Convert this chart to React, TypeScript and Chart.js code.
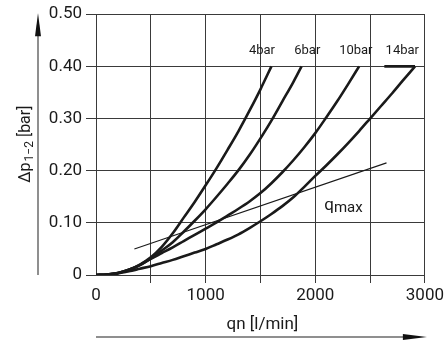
import React, { useEffect, useRef } from 'react';
import { Chart, registerables } from 'chart.js';

Chart.register(...registerables);

const FONT = 'Roboto, "Liberation Sans", sans-serif';

// x axis (qn, l/min) tick labels, every 500 gridline, labels every 1000
const xTickLabels = ['0', '', '1000', '', '2000', '', '3000'];
// y axis (Δp, bar) tick labels
const yTickLabels = ['0', '0.10', '0.20', '0.30', '0.40', '0.50'];

// curve names
const curveNames = ['4bar', '6bar', '10bar', '14bar'];

// 4 bar
const qn4 = [0, 100, 200, 300, 400, 500, 600, 700, 800, 900, 1000, 1100, 1200, 1300, 1400, 1500, 1600];
const dp4 = [0, 0.001, 0.004, 0.01, 0.02, 0.034, 0.054, 0.08, 0.11, 0.14, 0.172, 0.205, 0.24, 0.276, 0.315, 0.356, 0.4];

// 6 bar
const qn6 = [0, 100, 200, 300, 400, 500, 600, 700, 800, 900, 1000, 1100, 1200, 1300, 1400, 1500, 1600, 1700, 1800, 1875];
const dp6 = [0, 0.001, 0.004, 0.01, 0.019, 0.032, 0.047, 0.063, 0.083, 0.104, 0.126, 0.15, 0.175, 0.201, 0.23, 0.262, 0.296, 0.333, 0.37, 0.4];

// 10 bar
const qn10 = [0, 100, 200, 300, 400, 500, 600, 700, 800, 900, 1000, 1100, 1200, 1300, 1400, 1500, 1600, 1700, 1800, 1900, 2000, 2100, 2200, 2300, 2400];
const dp10 = [0, 0.001, 0.004, 0.01, 0.019, 0.031, 0.042, 0.053, 0.065, 0.077, 0.089, 0.101, 0.114, 0.127, 0.141, 0.157, 0.176, 0.197, 0.22, 0.245, 0.272, 0.302, 0.333, 0.366, 0.4];

// 14 bar
const qn14 = [0, 100, 200, 300, 400, 500, 600, 700, 800, 900, 1000, 1100, 1200, 1300, 1400, 1500, 1600, 1700, 1800, 1900, 2000, 2100, 2200, 2300, 2400, 2500, 2600, 2700, 2800, 2910];
const dp14 = [0, 0.001, 0.003, 0.007, 0.012, 0.017, 0.023, 0.029, 0.036, 0.043, 0.05, 0.059, 0.068, 0.078, 0.09, 0.103, 0.117, 0.132, 0.149, 0.169, 0.19, 0.21, 0.231, 0.253, 0.276, 0.3, 0.324, 0.348, 0.373, 0.4];

// 14 bar label leader
const leader14Qn = [2630, 2910];
const leader14Dp = [0.4, 0.4];

// q max line
const qmaxQn = [350, 2650];
const qmaxDp = [0.05, 0.215];

const zip = (xs: number[], ys: number[]) => xs.map((x, i) => ({ x, y: ys[i] }));

const decorPlugin = {
  id: 'decor',
  afterDraw(chart: any) {
    const { ctx, chartArea, scales } = chart;
    const xs = scales.x;
    const ys = scales.y;
    ctx.save();

    // y arrow
    const ax = 38;
    ctx.strokeStyle = '#6a6a6a';
    ctx.lineWidth = 1.5;
    ctx.beginPath();
    ctx.moveTo(ax, chartArea.bottom);
    ctx.lineTo(ax, chartArea.top + 18);
    ctx.stroke();
    ctx.fillStyle = '#111';
    ctx.beginPath();
    ctx.moveTo(ax, chartArea.top - 1);
    ctx.lineTo(ax - 3, chartArea.top + 22);
    ctx.lineTo(ax + 3, chartArea.top + 22);
    ctx.closePath();
    ctx.fill();

    // x arrow
    const ay = 337;
    ctx.strokeStyle = '#6a6a6a';
    ctx.beginPath();
    ctx.moveTo(chartArea.left, ay);
    ctx.lineTo(chartArea.right - 18, ay);
    ctx.stroke();
    ctx.fillStyle = '#111';
    ctx.beginPath();
    ctx.moveTo(chartArea.right + 2, ay);
    ctx.lineTo(chartArea.right - 22, ay - 3);
    ctx.lineTo(chartArea.right - 22, ay + 3);
    ctx.closePath();
    ctx.fill();

    ctx.fillStyle = '#1a1a1a';

    // y title with subscript
    ctx.save();
    ctx.translate(25, (chartArea.top + chartArea.bottom) / 2);
    ctx.rotate(-Math.PI / 2);
    ctx.textBaseline = 'alphabetic';
    ctx.textAlign = 'left';
    const segs = [
      { t: 'Δp', f: `16px ${FONT}`, dy: 0 },
      { t: '1−2', f: `12px ${FONT}`, dy: 3 },
      { t: ' [bar]', f: `16px ${FONT}`, dy: 0 },
    ];
    let total = 0;
    const widths = segs.map((s) => {
      ctx.font = s.f;
      const w = ctx.measureText(s.t).width;
      total += w;
      return w;
    });
    let cx = -total / 2;
    segs.forEach((s, i) => {
      ctx.font = s.f;
      ctx.fillText(s.t, cx, 5 + s.dy);
      cx += widths[i] + (i === 0 ? 1 : 0);
    });
    ctx.restore();

    // x title
    ctx.font = `17px ${FONT}`;
    ctx.textAlign = 'center';
    ctx.textBaseline = 'alphabetic';
    ctx.fillText('qn [l/min]', (chartArea.left + chartArea.right) / 2 + 2, 329);

    // curve labels
    const labelQn = [1514, 1927, 2370, 2794];
    ctx.font = `13px ${FONT}`;
    curveNames.forEach((n, i) => {
      ctx.fillText(n, xs.getPixelForValue(labelQn[i]), ys.getPixelForValue(0.4) - 12);
    });

    // q max label
    ctx.textAlign = 'left';
    const qx = xs.getPixelForValue(2082);
    const qy = ys.getPixelForValue(0.1245);
    ctx.font = `17px ${FONT}`;
    ctx.fillText('q', qx, qy);
    const qw = ctx.measureText('q').width;
    ctx.font = `15px ${FONT}`;
    ctx.fillText('max', qx + qw, qy + 2);

    ctx.restore();
  },
};

export default function App() {
  const ref = useRef<HTMLCanvasElement>(null);

  useEffect(() => {
    if (!ref.current) return;
    const curveStyle = {
      borderColor: '#1a1a1a',
      borderWidth: 2.6,
      pointRadius: 0,
      fill: false,
      cubicInterpolationMode: 'monotone' as const,
    };
    const chart = new Chart(ref.current, {
      type: 'line',
      data: {
        datasets: [
          { label: curveNames[0], data: zip(qn4, dp4), ...curveStyle },
          { label: curveNames[1], data: zip(qn6, dp6), ...curveStyle },
          { label: curveNames[2], data: zip(qn10, dp10), ...curveStyle },
          { label: curveNames[3], data: zip(qn14, dp14), ...curveStyle },
          { label: 'leader', data: zip(leader14Qn, leader14Dp), borderColor: '#1a1a1a', borderWidth: 2.6, pointRadius: 0 },
          { label: 'qmax', data: zip(qmaxQn, qmaxDp), borderColor: '#1a1a1a', borderWidth: 1.1, pointRadius: 0 },
        ],
      },
      options: {
        animation: false,
        responsive: false,
        devicePixelRatio: 1,
        layout: { padding: { left: 0, right: 21, top: 12, bottom: 0 } },
        plugins: { legend: { display: false }, tooltip: { enabled: false } },
        scales: {
          x: {
            type: 'linear',
            min: 0,
            max: 3000,
            ticks: {
              stepSize: 500,
              autoSkip: false,
              maxRotation: 0,
              padding: 3,
              color: '#1a1a1a',
              font: { family: FONT, size: 17 },
              callback: (_v: any, i: number) => xTickLabels[i],
            },
            grid: {
              color: '#3a3a3a',
              lineWidth: 1,
              tickLength: 8,
              tickColor: (c: any) => (c.tick && c.tick.value === 0 ? 'rgba(0,0,0,0)' : '#3a3a3a'),
            },
            border: { color: '#3a3a3a', width: 1 },
            afterFit: (s: any) => {
              s.height = 67;
            },
          },
          y: {
            type: 'linear',
            min: 0,
            max: 0.5,
            ticks: {
              stepSize: 0.1,
              padding: 4,
              color: '#1a1a1a',
              font: { family: FONT, size: 17 },
              callback: (_v: any, i: number) => yTickLabels[i],
            },
            grid: { color: '#3a3a3a', lineWidth: 1, tickLength: 10 },
            border: { color: '#3a3a3a', width: 1 },
            afterFit: (s: any) => {
              s.width = 96;
            },
          },
        },
      },
      plugins: [decorPlugin],
    });
    return () => chart.destroy();
  }, []);

  return (
    <div style={{ position: 'fixed', left: 0, top: 0, width: 447, height: 342, background: '#fff' }}>
      <canvas ref={ref} width={447} height={342} style={{ width: 447, height: 342, display: 'block' }} />
    </div>
  );
}
